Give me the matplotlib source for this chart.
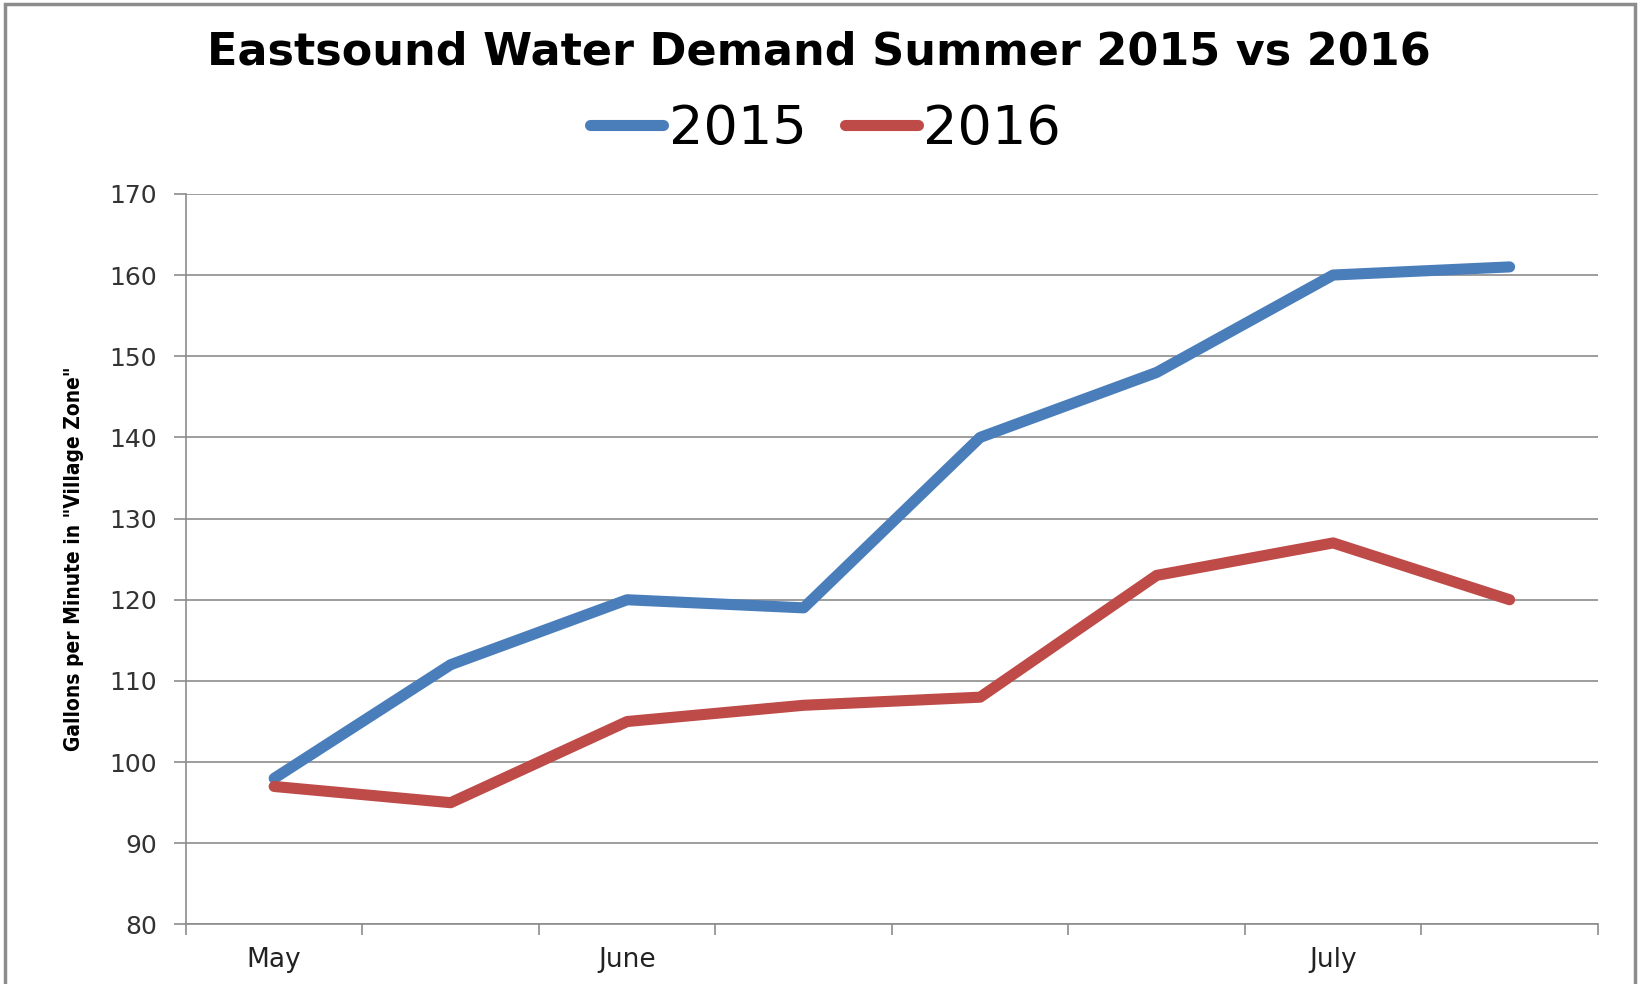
import matplotlib.pyplot as plt
from matplotlib.patches import Rectangle

# weekly samples, only some get a month label
categories = ["May", "", "June", "", "", "", "July", ""]
demand_2015 = [98, 112, 120, 119, 140, 148, 160, 161]
demand_2016 = [97, 95, 105, 107, 108, 123, 127, 120]
y_ticks = [80, 90, 100, 110, 120, 130, 140, 150, 160, 170]

fig = plt.figure(figsize=(16.38, 9.84), dpi=100)
ax = fig.add_axes([0.1135, 0.0605, 0.862, 0.7425])

x = range(len(categories))
ax.plot(x, demand_2015, color="#4A7EBB", linewidth=8, label="2015", solid_capstyle="round")
ax.plot(x, demand_2016, color="#BE4B48", linewidth=8, label="2016", solid_capstyle="round")

ax.set_xlim(-0.5, len(categories) - 0.5)
ax.set_ylim(80, 170)
ax.set_yticks(y_ticks)
ax.set_yticklabels([str(v) for v in y_ticks], fontsize=18, color="#333333")
ax.grid(axis="y", color="#8c8c8c", linewidth=1.2)
ax.set_axisbelow(True)

# category ticks sit between points, labels under the points
ax.set_xticks([i - 0.5 for i in range(len(categories) + 1)])
ax.set_xticklabels([""] * (len(categories) + 1))
ax.set_xticks(list(x), minor=True)
ax.set_xticklabels(categories, minor=True, fontsize=19, color="#222222")
ax.tick_params(axis="x", which="minor", length=0, pad=16)
ax.tick_params(axis="x", which="major", length=8, color="#8c8c8c", width=1.2)
ax.tick_params(axis="y", length=9, color="#8c8c8c", width=1.2, pad=12)

for side in ["top", "right"]:
    ax.spines[side].set_visible(False)
for side in ["left", "bottom"]:
    ax.spines[side].set_color("#8c8c8c")
    ax.spines[side].set_linewidth(1.2)

ax.set_ylabel('Gallons per Minute in "Village Zone"', fontsize=15, fontweight="bold",
              fontstretch="condensed")
ax.yaxis.set_label_coords(-0.072, 0.5)

fig.text(0.5, 0.947, "Eastsound Water Demand Summer 2015 vs 2016", ha="center", va="center",
         fontsize=32, fontweight="bold")

fig.legend(loc="center", bbox_to_anchor=(0.504, 0.869), ncol=2, frameon=False,
           fontsize=39, handlelength=1.35, handletextpad=0.1, columnspacing=0.7)

fig.patches.append(Rectangle((0.003, -0.01), 0.995, 1.006, transform=fig.transFigure,
                             fill=False, edgecolor="#8c8c8c", linewidth=2.5))

fig.savefig("out.png", dpi=100)
